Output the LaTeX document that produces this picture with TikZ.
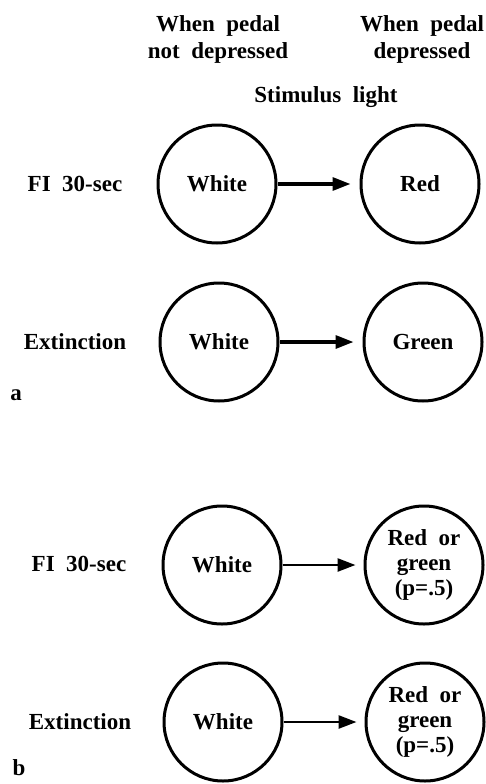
\documentclass[tikz,border=0pt]{standalone}
\usepackage{fontspec}
\setmainfont{Liberation Serif}
\usetikzlibrary{arrows.meta}
\begin{document}
\begin{tikzpicture}[x=1pt,y=-1pt,
  every node/.style={font=\fontsize{23}{27}\selectfont\bfseries},
  state/.style={circle,draw,line width=3pt,minimum size=118pt,inner sep=0pt,align=center,font=\fontsize{23}{25}\selectfont\bfseries},
  lab/.style={align=center},
  conn/.style={line width=3.2pt,-{Triangle[length=18pt,width=13pt]},shorten >=9pt},
  connb/.style={line width=2.6pt,-{Triangle[length=18pt,width=13pt]},shorten >=8pt}]
\useasboundingbox (0,0) rectangle (485,784);
% headers
\node[lab] (h1) at (218,39) {When\ \ pedal\\not\ \ depressed};
\node[lab] (h2) at (422,39) {When\ \ pedal\\depressed};
\node[lab] (h3) at (326,97) {Stimulus\ \ light};
% panel a
\node[lab] (r1) at (75,184) {FI\ \ 30-sec};
\node[state] (w1) at (217,184) {White};
\node[state] (c1) at (420,184) {Red};
\draw[conn] (w1) -- (c1);
\node[lab] (r2) at (75,342) {Extinction};
\node[state] (w2) at (219,342) {White};
\node[state] (c2) at (423,342) {Green};
\draw[conn] (w2) -- (c2);
\node (la) at (16,395) {a};
% panel b
\node[lab] (r3) at (79,564) {FI\ \ 30-sec};
\node[state] (w3) at (222,565) {White};
\node[state] (c3) at (424,565) {Red\ \ or\\green\\(p=.5)};
\draw[connb] (w3) -- (c3);
\node[lab] (r4) at (80,722) {Extinction};
\node[state] (w4) at (223,722) {White};
\node[state] (c4) at (425,722) {Red\ \ or\\green\\(p=.5)};
\draw[connb] (w4) -- (c4);
\node (lb) at (19,768) {b};
\end{tikzpicture}
\end{document}
